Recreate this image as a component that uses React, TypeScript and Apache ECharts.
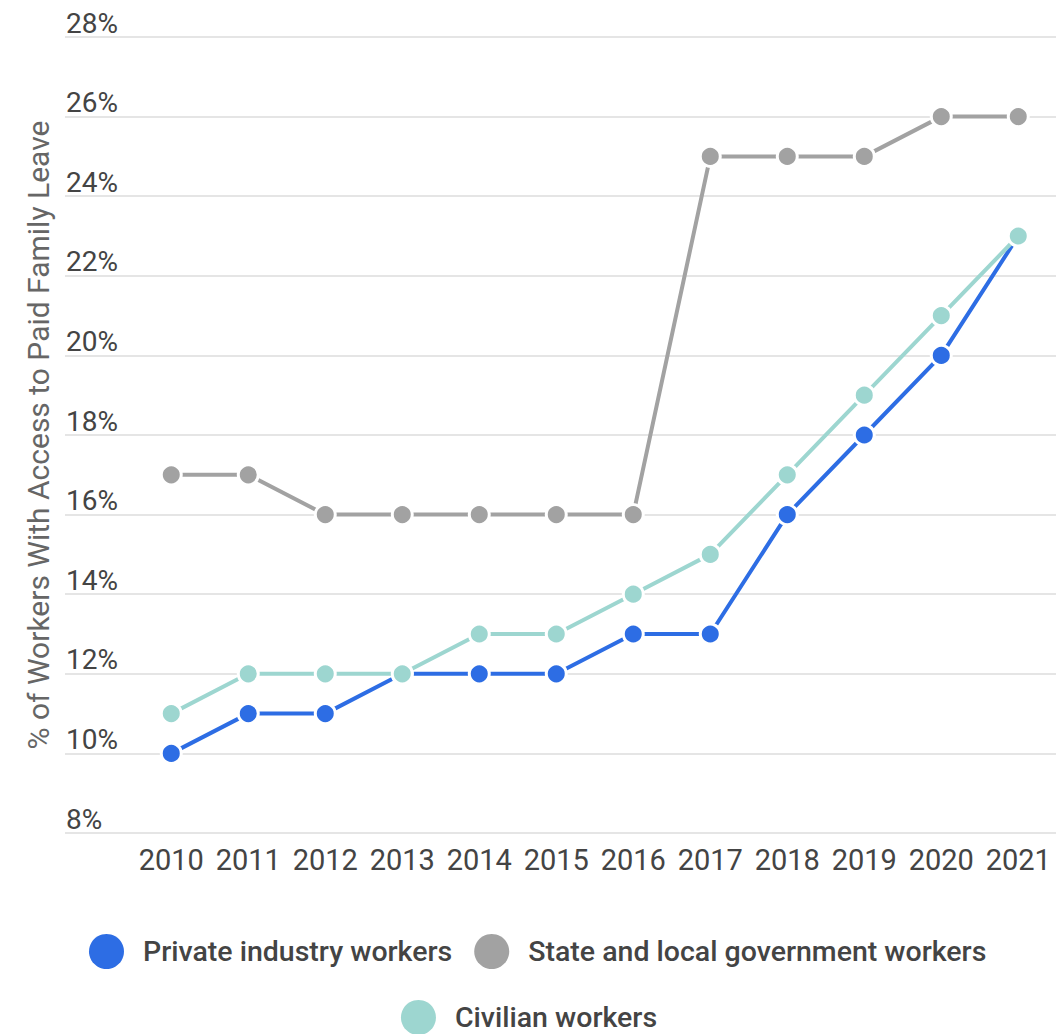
import React, { useEffect, useRef } from "react";
import * as echarts from "echarts";

const years = [2010, 2011, 2012, 2013, 2014, 2015, 2016, 2017, 2018, 2019, 2020, 2021];
const privateWorkers = [10, 11, 11, 12, 12, 12, 13, 13, 16, 18, 20, 23];
const stateLocalWorkers = [17, 17, 16, 16, 16, 16, 16, 25, 25, 25, 26, 26];
const civilianWorkers = [11, 12, 12, 12, 13, 13, 14, 15, 17, 19, 21, 23];
const seriesNames = ["Private industry workers", "State and local government workers", "Civilian workers"];
const colors = ["#2d6de4", "#a2a2a2", "#9dd6d0"];

const FONT = "Roboto, 'Noto Sans', sans-serif";

export default function App() {
  const ref = useRef<HTMLDivElement>(null);
  useEffect(() => {
    if (!ref.current) return;
    const chart = echarts.init(ref.current, undefined, { renderer: "svg" });
    const all = [privateWorkers, stateLocalWorkers, civilianWorkers];
    const series = all.map((vals, i) => ({
      name: seriesNames[i],
      type: "line",
      data: vals.map((v, j) => [years[j], v]),
      symbol: "circle",
      symbolSize: 20,
      lineStyle: { color: colors[i], width: 4 },
      itemStyle: { color: colors[i], borderColor: "#ffffff", borderWidth: 3 },
      emphasis: { disabled: true },
      z: 2 + i,
    }));
    const legendText = { fontSize: 28.5, fontWeight: 500, color: "#444", padding: [0, 0, 0, 14], fontFamily: FONT };
    chart.setOption({
      animation: false,
      textStyle: { fontFamily: FONT },
      grid: { left: 65, right: 2, top: 37, bottom: 201, containLabel: false },
      xAxis: {
        type: "value",
        min: 2008.62,
        max: 2021.49,
        axisLine: { show: false },
        axisTick: { show: false },
        splitLine: { show: false },
        axisLabel: {
          customValues: years,
          formatter: (v: number) => String(v),
          fontSize: 29,
          color: "#444",
          margin: 12,
          fontFamily: FONT,
        },
      },
      yAxis: {
        type: "value",
        min: 8,
        max: 28,
        interval: 2,
        name: "% of Workers With Access to Paid Family Leave",
        nameLocation: "middle",
        nameGap: 12,
        nameTextStyle: { fontSize: 30, color: "#666", fontFamily: FONT },
        axisLine: { show: false },
        axisTick: { show: false },
        splitLine: { lineStyle: { color: "#dddddd", width: 1.5 } },
        axisLabel: {
          inside: true,
          align: "left",
          verticalAlign: "bottom",
          margin: 1,
          fontSize: 28,
          color: "#444",
          fontFamily: FONT,
          formatter: (v: number) => v + "%",
        },
      },
      legend: [
        {
          data: [seriesNames[0], seriesNames[1]],
          left: 84,
          top: 929,
          icon: "circle",
          itemWidth: 35,
          itemHeight: 35,
          itemGap: 22,
          itemStyle: { borderWidth: 0 },
          textStyle: legendText,
          selectedMode: false,
        },
        {
          data: [seriesNames[2]],
          left: "center",
          top: 995,
          icon: "circle",
          itemWidth: 35,
          itemHeight: 35,
          itemStyle: { borderWidth: 0 },
          textStyle: legendText,
          selectedMode: false,
        },
      ],
      series,
    });
    return () => chart.dispose();
  }, []);
  return (
    <div
      ref={ref}
      style={{ position: "fixed", left: 0, top: 0, width: 1058, height: 1034, background: "#fff" }}
    />
  );
}
